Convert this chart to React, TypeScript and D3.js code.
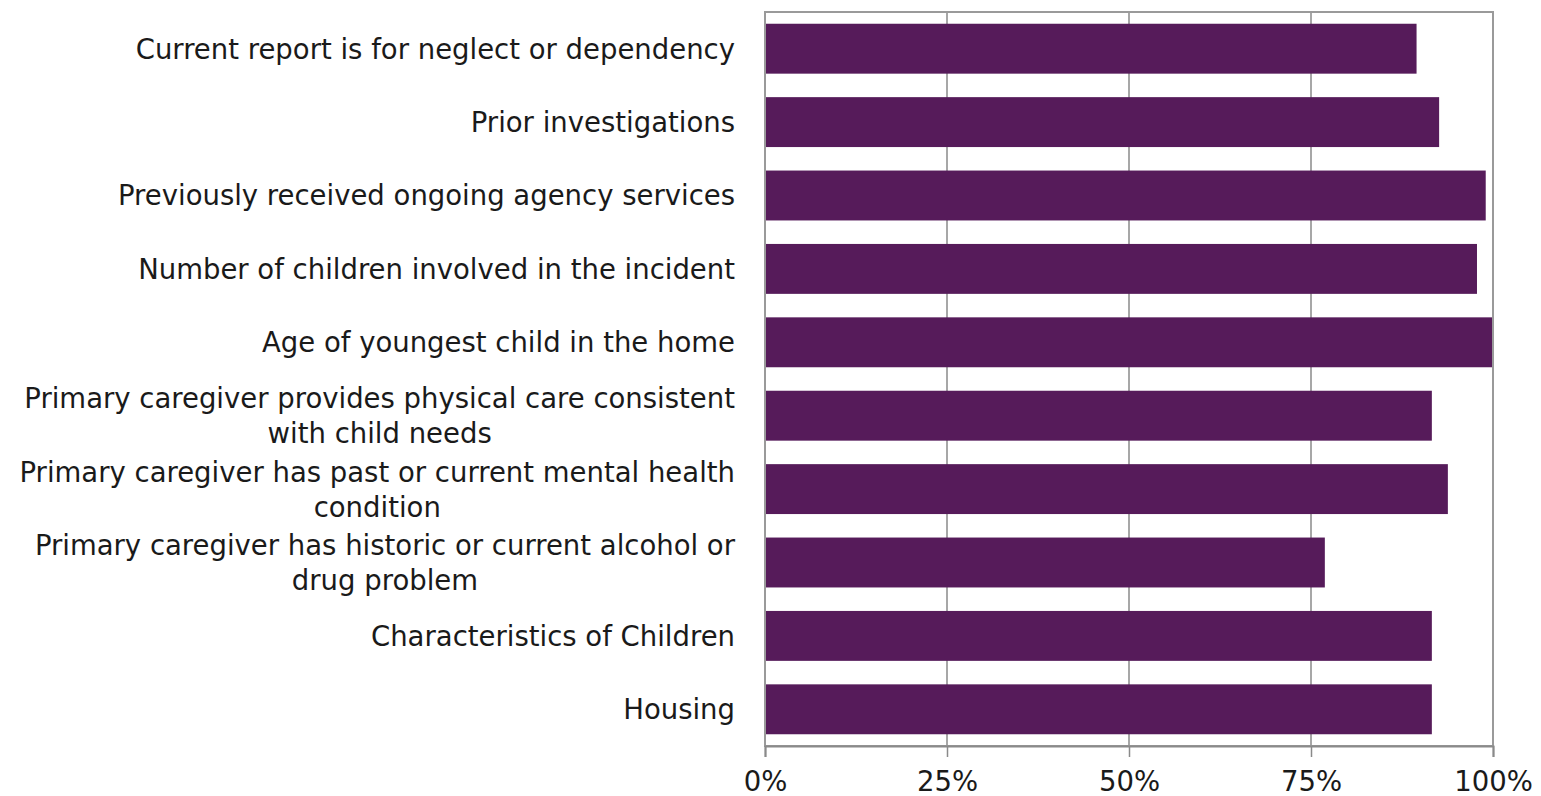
import React, { useEffect, useRef } from "react";
import * as d3 from "d3";

const categories: string[][] = [
  ["Current report is for neglect or dependency"],
  ["Prior investigations"],
  ["Previously received ongoing agency services"],
  ["Number of children involved in the incident"],
  ["Age of youngest child in the home"],
  ["Primary caregiver provides physical care consistent", "with child needs"],
  ["Primary caregiver has past or current mental health", "condition"],
  ["Primary caregiver has historic or current alcohol or", "drug problem"],
  ["Characteristics of Children"],
  ["Housing"],
];
const values: number[] = [0.895, 0.926, 0.99, 0.978, 1.0, 0.916, 0.938, 0.769, 0.916, 0.916];
const ticks: number[] = [0, 0.25, 0.5, 0.75, 1];

const W = 1541, H = 796;
const M = { left: 765, right: 1493, top: 12, bottom: 746 };
const FONT = "DejaVu Sans, Verdana, sans-serif";
const FS = 27.5;

export default function App() {
  const ref = useRef<SVGSVGElement>(null);
  useEffect(() => {
    const svg = d3.select(ref.current);
    svg.selectAll("*").remove();
    const x = d3.scaleLinear().domain([0, 1]).range([M.left, M.right]);
    const y = d3.scaleBand<number>().domain(d3.range(categories.length)).range([M.top, M.bottom]).paddingInner(0.32).paddingOuter(0.16);

    // gridlines
    svg.append("g").selectAll("line").data(ticks.slice(1, -1)).join("line")
      .attr("x1", d => x(d)).attr("x2", d => x(d))
      .attr("y1", M.top).attr("y2", M.bottom)
      .attr("stroke", "#8a8a8a").attr("stroke-width", 1.5);

    // bars
    svg.append("g").selectAll("rect").data(values).join("rect")
      .attr("x", x(0)).attr("y", (_, i) => y(i)!)
      .attr("width", d => x(d) - x(0)).attr("height", y.bandwidth())
      .attr("fill", "#561b5a");

    // border
    svg.append("rect").attr("x", M.left).attr("y", M.top)
      .attr("width", M.right - M.left).attr("height", M.bottom - M.top)
      .attr("fill", "none").attr("stroke", "#9a9a9a").attr("stroke-width", 2);

    // x axis
    const ax = svg.append("g").attr("transform", `translate(0,${M.bottom})`)
      .call(d3.axisBottom(x).tickValues(ticks).tickFormat(d3.format(".0%")).tickSize(11).tickPadding(14));
    ax.select(".domain").attr("stroke", "#8a8a8a").attr("stroke-width", 2);
    ax.selectAll(".tick line").attr("stroke", "#8a8a8a").attr("stroke-width", 1.5);
    ax.selectAll("text").attr("font-family", FONT).attr("font-size", FS).attr("fill", "#1a1a1a");

    // category labels
    const lab = svg.append("g");
    categories.forEach((lines, i) => {
      const cy = y(i)! + y.bandwidth() / 2;
      const lh = 35;
      const y0 = cy - ((lines.length - 1) * lh) / 2;
      const first = lab.append("text").attr("x", 735).attr("y", y0).attr("dy", "0.36em")
        .attr("text-anchor", "end").attr("font-family", FONT).attr("font-size", FS).attr("fill", "#1a1a1a")
        .text(lines[0]);
      if (lines.length > 1) {
        const w = (first.node() as SVGTextElement).getComputedTextLength();
        lab.append("text").attr("x", 735 - w / 2).attr("y", y0 + lh).attr("dy", "0.36em")
          .attr("text-anchor", "middle").attr("font-family", FONT).attr("font-size", FS).attr("fill", "#1a1a1a")
          .text(lines[1]);
      }
    });
  }, []);
  return <svg ref={ref} width={W} height={H} style={{ display: "block", position: "absolute", left: 0, top: 0, background: "#fff" }} />;
}
